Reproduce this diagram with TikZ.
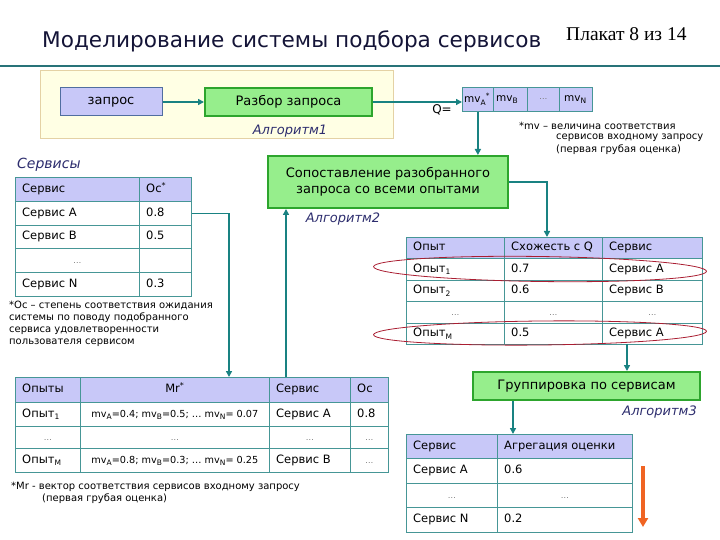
\documentclass[tikz,border=0pt]{standalone}
\usepackage{fontspec}
\setmainfont{DejaVu Sans}
\newfontfamily\plfont{Liberation Serif}
\usetikzlibrary{arrows.meta,shapes.geometric}
\definecolor{conncol}{RGB}{25,130,130}
\definecolor{tbcol}{RGB}{70,150,150}
\definecolor{hdrcol}{RGB}{200,200,248}
\definecolor{grfill}{RGB}{150,238,140}
\definecolor{grdraw}{RGB}{45,165,45}
\definecolor{zapdraw}{RGB}{80,110,160}
\definecolor{yfill}{RGB}{255,255,228}
\definecolor{ydraw}{RGB}{228,210,165}
\definecolor{algcol}{RGB}{45,45,110}
\definecolor{titcol}{RGB}{20,20,55}
\definecolor{elcol}{RGB}{170,30,50}
\definecolor{orcol}{RGB}{240,100,35}
\definecolor{linecol}{RGB}{40,115,120}
\definecolor{dotcol}{RGB}{120,120,120}

\newcommand{\lowsub}[1]{\raisebox{-0.4ex}{\fontsize{7.5}{8}\selectfont #1}}
\newcommand{\dotsg}{\textcolor{dotcol}{\fontsize{8}{9}\selectfont …}}
\newcommand{\tcell}[7][]{%
  \node[cellbox,#1,minimum width=#4,minimum height=#5] (#7) at (#2,#3) {};
  \node[celltxt] (#7t) at ([xshift=7pt]#7.west) {#6};}
\newcommand{\ccell}[7][]{%
  \node[cellbox,#1,minimum width=#4,minimum height=#5] (#7) at (#2,#3) {};
  \node[celltxtc] (#7t) at (#7.center) {#6};}

\begin{document}
\begin{tikzpicture}[x=1pt,y=-1pt,
  cellbox/.style={draw=tbcol, line width=0.8pt, inner sep=0pt, anchor=north west, rectangle},
  celltxt/.style={anchor=west, inner sep=0pt, text height=8.5pt, text depth=2.5pt, font=\fontsize{11.5}{13}\selectfont},
  celltxtc/.style={anchor=center, inner sep=0pt, text height=8.5pt, text depth=2.5pt, font=\fontsize{11.5}{13}\selectfont},
  hdr/.style={fill=hdrcol},
  gbox/.style={draw=grdraw, line width=2pt, fill=grfill, inner sep=0pt, font=\fontsize{13}{16}\selectfont, align=center},
  alg/.style={text=algcol, font=\fontsize{13}{15}\selectfont\itshape, inner sep=0pt},
  note/.style={font=\fontsize{10}{12}\selectfont, inner sep=0pt, anchor=west},
  conn/.style={draw=conncol, line width=1.5pt, -{Triangle[length=6pt,width=6pt]}},
  orarrow/.style={draw=orcol, line width=4pt, -{Triangle[length=9pt,width=10pt]}},
  oval/.style={draw=elcol, line width=0.8pt}
]
\useasboundingbox (0,0) rectangle (720,540);
\fill[white] (0,0) rectangle (720,540);

% title
\node[anchor=base west, inner sep=0pt, text=titcol, font=\fontsize{21.6}{25}\selectfont] (title) at (42,48) {Моделирование системы подбора сервисов};
\node[anchor=base west, inner sep=0pt, font=\plfont\fontsize{19.5}{22}\selectfont] (plakat) at (566,41) {Плакат 8 из 14};
\coordinate (tl1) at (0,66);
\coordinate (tl2) at (720,66);
\draw[linecol, line width=2.5pt] (tl1) -- (tl2);

% yellow frame
\node[draw=ydraw, fill=yfill, line width=1pt, anchor=north west, minimum width=353, minimum height=68, inner sep=0pt] (ybox) at (40,70) {};
\node[draw=zapdraw, fill=hdrcol, line width=1pt, minimum width=102, minimum height=28, inner sep=0pt, font=\fontsize{13}{16}\selectfont] (zapros) at (111,102) {запрос};
\node[gbox, minimum width=167, minimum height=28] (razbor) at (288.5,102) {Разбор запроса};
\node[alg] (alg1) at (290,131) {Алгоритм1};

% Q vector
\node[inner sep=0pt, font=\fontsize{12}{14}\selectfont] (qlab) at (442,110) {Q=};
\tcell[hdr]{462}{87}{31}{24}{}{q1}
\tcell[hdr]{493}{87}{34}{24}{}{q2}
\tcell[hdr]{527}{87}{32}{24}{}{q3}
\tcell[hdr]{559}{87}{33}{24}{}{q4}
\node[inner sep=0pt, anchor=west, font=\fontsize{10.5}{12}\selectfont] (q1x) at ([xshift=2pt]q1.west) {mv\lowsub{A}\textsuperscript{*}};
\node[inner sep=0pt, anchor=west, font=\fontsize{10.5}{12}\selectfont] (q2x) at ([xshift=3pt]q2.west) {mv\lowsub{B}};
\node[inner sep=0pt, font=\fontsize{10}{12}\selectfont] (q3x) at (q3.center) {\dotsg};
\node[inner sep=0pt, anchor=west, font=\fontsize{10.5}{12}\selectfont] (q4x) at ([xshift=5pt]q4.west) {mv\lowsub{N}};
\node[note] (mvn1) at (519,126) {*mv – величина соответствия};
\node[note] (mvn2) at (556,138) {сервисов входному запросу};
\node[note] (mvn3) at (556,150) {(первая грубая оценка)};

% matching box
\node[gbox, minimum width=240, minimum height=52] (sopost) at (388,182) {Сопоставление разобранного\\запроса со всеми опытами};
\node[alg] (alg2) at (343,219) {Алгоритм2};

% services table
\node[inner sep=0pt, anchor=west, text=algcol, font=\fontsize{14}{16}\selectfont\itshape] (srvlab) at (17,165) {Сервисы};
\tcell[hdr]{15}{177}{124}{24}{Сервис}{s00}
\tcell[hdr]{139}{177}{52}{24}{Ос\textsuperscript{*}}{s01}
\tcell{15}{201}{124}{24}{Сервис A}{s10}
\tcell{139}{201}{52}{24}{0.8}{s11}
\tcell{15}{225}{124}{23}{Сервис B}{s20}
\tcell{139}{225}{52}{23}{0.5}{s21}
\ccell{15}{248}{124}{24}{\dotsg}{s30}
\ccell{139}{248}{52}{24}{}{s31}
\tcell{15}{272}{124}{24}{Сервис N}{s40}
\tcell{139}{272}{52}{24}{0.3}{s41}
\node[note, anchor=north west, align=left] (ocnote) at (9,301) {*Ос – степень соответствия ожидания\\системы по поводу подобранного\\сервиса удовлетворенности\\пользователя сервисом};

% experiences table
\tcell[hdr]{406}{237}{98}{21}{Опыт}{o00}
\tcell[hdr]{504}{237}{98}{21}{Схожесть с Q}{o01}
\tcell[hdr]{602}{237}{100}{21}{Сервис}{o02}
\tcell{406}{258}{98}{21.5}{Опыт\lowsub{1}}{o10}
\tcell{504}{258}{98}{21.5}{0.7}{o11}
\tcell{602}{258}{100}{21.5}{Сервис A}{o12}
\tcell{406}{279.5}{98}{21.5}{Опыт\lowsub{2}}{o20}
\tcell{504}{279.5}{98}{21.5}{0.6}{o21}
\tcell{602}{279.5}{100}{21.5}{Сервис B}{o22}
\ccell{406}{301}{98}{21.5}{\dotsg}{o30}
\ccell{504}{301}{98}{21.5}{\dotsg}{o31}
\ccell{602}{301}{100}{21.5}{\dotsg}{o32}
\tcell{406}{322.5}{98}{21.5}{Опыт\lowsub{M}}{o40}
\tcell{504}{322.5}{98}{21.5}{0.5}{o41}
\tcell{602}{322.5}{100}{21.5}{Сервис A}{o42}
\node[oval, ellipse, minimum width=333, minimum height=25, inner sep=0pt, rotate=-0.8] (el1) at (540,269) {};
\node[oval, ellipse, minimum width=333, minimum height=24, inner sep=0pt, rotate=0.6] (el2) at (540,333) {};

% Mr table
\tcell[hdr]{15}{377}{65}{25}{Опыты}{m00}
\ccell[hdr]{80}{377}{189}{25}{Mr\textsuperscript{*}}{m01}
\tcell[hdr]{269}{377}{81}{25}{Сервис}{m02}
\tcell[hdr]{350}{377}{38}{25}{Ос}{m03}
\tcell{15}{402}{65}{24}{Опыт\lowsub{1}}{m10}
\ccell{80}{402}{189}{24}{\fontsize{9.7}{11}\selectfont mv\lowsub{A}=0.4; mv\lowsub{B}=0.5; … mv\lowsub{N}= 0.07}{m11}
\tcell{269}{402}{81}{24}{Сервис A}{m12}
\tcell{350}{402}{38}{24}{0.8}{m13}
\ccell{15}{426}{65}{22}{\dotsg}{m20}
\ccell{80}{426}{189}{22}{\dotsg}{m21}
\ccell{269}{426}{81}{22}{\dotsg}{m22}
\ccell{350}{426}{38}{22}{\dotsg}{m23}
\tcell{15}{448}{65}{24}{Опыт\lowsub{M}}{m30}
\ccell{80}{448}{189}{24}{\fontsize{9.7}{11}\selectfont mv\lowsub{A}=0.8; mv\lowsub{B}=0.3; … mv\lowsub{N}= 0.25}{m31}
\tcell{269}{448}{81}{24}{Сервис B}{m32}
\ccell{350}{448}{38}{24}{\dotsg}{m33}
\node[note] (mrn1) at (11,487) {*Mr - вектор соответствия сервисов входному запросу};
\node[note] (mrn2) at (42,499) {(первая грубая оценка)};

% grouping
\node[gbox, minimum width=227, minimum height=28] (grupp) at (586.5,386) {Группировка по сервисам};
\node[alg, anchor=east] (alg3) at (697,412) {Алгоритм3};

% aggregation table
\tcell[hdr]{406}{434}{91}{24}{Сервис}{a00}
\tcell[hdr]{497}{434}{135}{24}{Агрегация оценки}{a01}
\tcell{406}{458}{91}{25}{Сервис A}{a10}
\tcell{497}{458}{135}{25}{0.6}{a11}
\ccell{406}{483}{91}{24}{\dotsg}{a20}
\ccell{497}{483}{135}{24}{\dotsg}{a21}
\tcell{406}{507}{91}{25}{Сервис N}{a30}
\tcell{497}{507}{135}{25}{0.2}{a31}

% connectors
\draw[conn] (zapros) -- (razbor);
\draw[conn] (razbor.east) -- (razbor.east -| q1.west);
\draw[conn] (q1.south) -- (q1.south |- sopost.north);
\coordinate (cO) at (547,237);
\draw[conn] (sopost.east) -| (cO);
\coordinate (cM1) at (229,377);
\draw[conn] (s11.east) -| (cM1);
\coordinate (cM2) at (286,377);
\draw[conn] (cM2) -- (cM2 |- sopost.south);
\coordinate (cO2) at (627,344);
\draw[conn] (cO2) -- (cO2 |- grupp.north);
\coordinate (cA) at (513,434);
\draw[conn] (cA |- grupp.south) -- (cA);
\coordinate (or1) at (643,466);
\coordinate (or2) at (643,527);
\draw[orarrow] (or1) -- (or2);
\end{tikzpicture}
\end{document}
